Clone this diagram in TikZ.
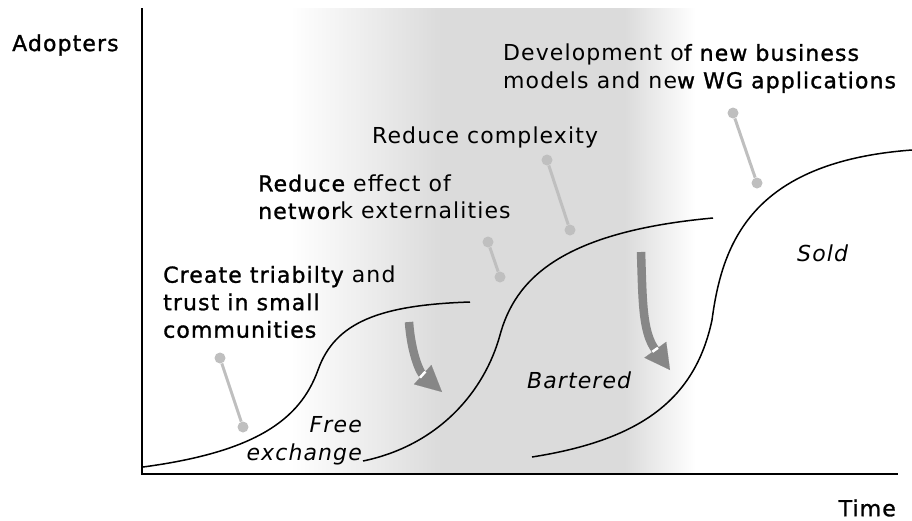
\documentclass[tikz,border=0pt]{standalone}
\usepackage{fontspec}
\setmainfont{DejaVu Sans}[LetterSpace=5,ItalicFont={DejaVu Sans Oblique},BoldFont={DejaVu Sans Bold}]
\usetikzlibrary{arrows.meta,positioning}

% heavier strokes for the stressed words
\newcommand{\hvy}[1]{{\addfontfeatures{FakeBold=1.2}#1}}

\begin{document}
\begin{tikzpicture}[x=1pt,y=1pt]
	\tikzstyle{lbl}=[inner sep=0pt, anchor=west, align=left, font=\fontsize{22}{27.5}\selectfont]
	\tikzstyle{stage}=[inner sep=0pt, font=\fontsize{22}{27.5}\selectfont\itshape]
	\tikzstyle{knob}=[circle, fill=black!25, inner sep=0pt, minimum size=11pt]
	\tikzstyle{stick}=[draw=black!25, line width=3pt]
	\tikzstyle{scurve}=[line width=1.5pt]
	\tikzstyle{movearr}=[draw=black!47, line width=8.5pt]

	\useasboundingbox (0,0) rectangle (912,-520);

	% shaded middle band
	\shade[left color=white, right color=black!14] (290,-8) rectangle (440,-474);
	\fill[black!14] (440,-8) rectangle (625,-474);
	\shade[left color=black!14, right color=white] (625,-8) rectangle (695,-474);

	% axes
	\draw[line width=2pt] (142,-8) -- (142,-474) -- (898,-474);

	% the three diffusion curves
	\draw[scurve] (143,-467) .. controls (255,-452) and (300,-420) .. (318,-370)
		.. controls (335,-322) and (380,-305) .. (470,-302);
	\draw[scurve] (363,-461) .. controls (440,-445) and (485,-390) .. (500,-335)
		.. controls (515,-280) and (560,-232) .. (713,-218);
	\draw[scurve] (532,-457) .. controls (640,-440) and (695,-400) .. (712,-320)
		.. controls (722,-245) and (750,-162) .. (912,-150);

	% axis labels
	\node[lbl] (adopt) at (12,-45) {\hvy{Adopters}};
	\node[lbl, anchor=east] (time) at (896,-508) {\hvy{Time}};

	% stage texts
	\node[lbl] (trust) at (163,-302) {\hvy{Create triabilty} and\\\hvy{trust in small}\\\hvy{communities}};
	\node[lbl] (effect) at (258,-197) {\hvy{Reduce} effect of\\\hvy{networ}k externalities};
	\node[lbl] (complex) at (372,-137) {Reduce complexity};
	\node[lbl] (newbiz) at (503,-68.5) {Development o\hvy{f new business}\\models and ne\hvy{w WG applications}};

	\node[stage, anchor=east, align=right] (free) at (362,-441) {Free\\exchange};
	\node[stage, anchor=west] (barter) at (527,-380) {Bartered};
	\node[stage, anchor=west] (sold) at (797,-253) {Sold};

	% pins
	\node[knob] (k1a) at (220,-358) {};
	\node[knob] (k1b) at (243,-427) {};
	\node[knob] (k2a) at (488,-242) {};
	\node[knob] (k2b) at (500,-277) {};
	\node[knob] (k3a) at (547,-160) {};
	\node[knob] (k3b) at (570,-230) {};
	\node[knob] (k4a) at (733,-113) {};
	\node[knob] (k4b) at (757,-183) {};
	\draw[stick] (k1a) -- (k1b);
	\draw[stick] (k2a) -- (k2b);
	\draw[stick] (k3a) -- (k3b);
	\draw[stick] (k4a) -- (k4b);

	% shift arrows
	\coordinate (a1s) at (409,-322);
	\coordinate (a1e) at (442,-392);
	\coordinate (a2s) at (641,-252);
	\coordinate (a2e) at (670,-370);
	\draw[movearr, -{Triangle[width=26pt,length=26pt,line width=0.1pt]}] (a1s) to[out=-86, in=138] (a1e);
	\draw[movearr, -{Triangle[width=27pt,length=25pt,line width=0.1pt]}] (a2s) to[out=-88, in=126] (a2e);
	\draw[white, line width=2.5pt] (420,-377.6) -- (425.4,-371.6);
	\draw[white, line width=2.5pt] (652.4,-351.8) -- (658,-347.8);
\end{tikzpicture}
\end{document}
